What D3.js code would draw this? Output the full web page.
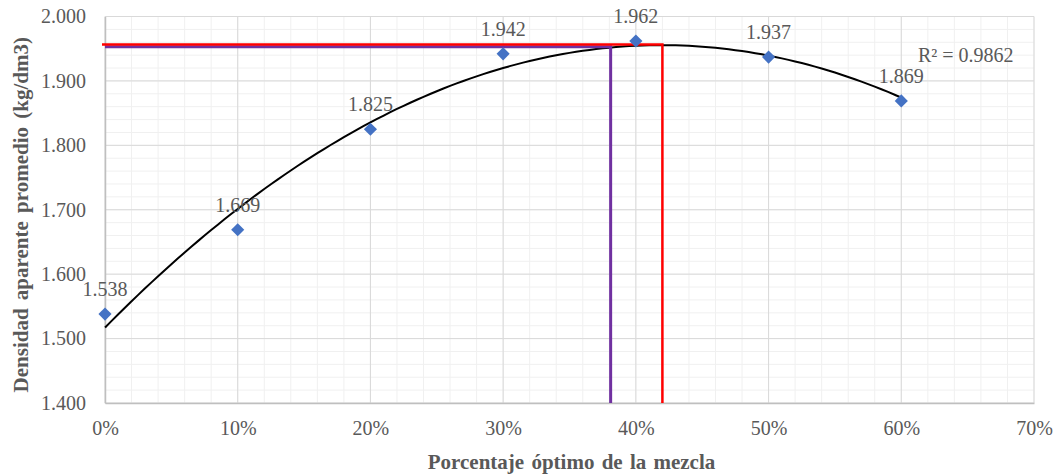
<!DOCTYPE html>
<html>
<head>
<meta charset="utf-8">
<script src="https://cdn.jsdelivr.net/npm/d3@7"></script>
<style>
  body { margin: 0; background: #fff; }
  svg { display: block; font-family: "Liberation Serif", "Times New Roman", serif; }
</style>
</head>
<body>
<svg id="chart" width="1061" height="474"></svg>
<script>
// percentages (as fractions) and average bulk density
var mixPct = [0, 0.1, 0.2, 0.3, 0.4, 0.5, 0.6];
var density = [1.538, 1.669, 1.825, 1.942, 1.962, 1.937, 1.869];
var xTicks = [0, 0.1, 0.2, 0.3, 0.4, 0.5, 0.6, 0.7];
var yTicks = [1.4, 1.5, 1.6, 1.7, 1.8, 1.9, 2.0];
var redOptimum = [0.42, 1.9565];
var purpleOptimum = [0.381, 1.953];
var r2Text = 'R\u00B2 = 0.9862';

var svg = d3.select('#chart');
var plotLeft = 105, plotRight = 1034, plotTop = 16.5, plotBottom = 403;

var xScale = d3.scaleLinear().domain([0, 0.7]).range([plotLeft, plotRight]);
var yScale = d3.scaleLinear().domain([1.4, 2.0]).range([plotBottom, plotTop]);

// gridlines: minor every 2% / 0.02, major every 10% / 0.1
var grid = svg.append('g');
grid.selectAll('line.vminor')
    .data(d3.range(0, 36).map(function (i) { return i * 0.02; }))
    .enter().append('line')
    .attr('x1', function (d) { return xScale(d); })
    .attr('x2', function (d) { return xScale(d); })
    .attr('y1', plotTop).attr('y2', plotBottom)
    .attr('stroke', '#f0f0f0').attr('stroke-width', 1);
grid.selectAll('line.hminor')
    .data(d3.range(0, 31).map(function (i) { return 1.4 + i * 0.02; }))
    .enter().append('line')
    .attr('x1', plotLeft).attr('x2', plotRight)
    .attr('y1', function (d) { return yScale(d); })
    .attr('y2', function (d) { return yScale(d); })
    .attr('stroke', '#f0f0f0').attr('stroke-width', 1);
grid.selectAll('line.vmajor')
    .data(xTicks)
    .enter().append('line')
    .attr('x1', function (d) { return xScale(d); })
    .attr('x2', function (d) { return xScale(d); })
    .attr('y1', plotTop).attr('y2', plotBottom)
    .attr('stroke', '#d9d9d9').attr('stroke-width', 1);
grid.selectAll('line.hmajor')
    .data(yTicks)
    .enter().append('line')
    .attr('x1', plotLeft).attr('x2', plotRight)
    .attr('y1', function (d) { return yScale(d); })
    .attr('y2', function (d) { return yScale(d); })
    .attr('stroke', '#d9d9d9').attr('stroke-width', 1);

// axes
var xAxis = d3.axisBottom(xScale).tickValues(xTicks).tickSize(0).tickPadding(18)
    .tickFormat(d3.format('.0%'));
var yAxis = d3.axisLeft(yScale).tickValues(yTicks).tickSize(0).tickPadding(19)
    .tickFormat(d3.format('.3f'));

var gx = svg.append('g').attr('transform', 'translate(0,' + plotBottom + ')').call(xAxis);
var gy = svg.append('g').attr('transform', 'translate(' + plotLeft + ',0)').call(yAxis);
[gx, gy].forEach(function (g) {
    g.select('.domain').attr('stroke', '#bfbfbf').attr('stroke-width', 1.5);
    g.selectAll('text')
        .attr('fill', '#595959')
        .style('font-size', '20px')
        .style('font-family', '"Liberation Serif", serif');
});

// quadratic trendline (least squares on the data)
function fitQuadratic(xs, ys) {
    var s = [0, 0, 0, 0, 0], t = [0, 0, 0];
    xs.forEach(function (x, i) {
        for (var k = 0; k < 5; k++) s[k] += Math.pow(x, k);
        for (var j = 0; j < 3; j++) t[j] += Math.pow(x, j) * ys[i];
    });
    var m = [[s[0], s[1], s[2], t[0]], [s[1], s[2], s[3], t[1]], [s[2], s[3], s[4], t[2]]];
    for (var c = 0; c < 3; c++) {
        for (var r = c + 1; r < 3; r++) {
            var f = m[r][c] / m[c][c];
            for (var q = c; q < 4; q++) m[r][q] -= f * m[c][q];
        }
    }
    var coef = [0, 0, 0];
    for (var i = 2; i >= 0; i--) {
        var v = m[i][3];
        for (var j2 = i + 1; j2 < 3; j2++) v -= m[i][j2] * coef[j2];
        coef[i] = v / m[i][i];
    }
    return coef;
}
var coef = fitQuadratic(mixPct, density);
var trendX = d3.range(0, 0.6001, 0.005);
var trendLine = d3.line()
    .x(function (d) { return xScale(d); })
    .y(function (d) { return yScale(coef[0] + coef[1] * d + coef[2] * d * d); })
    .curve(d3.curveMonotoneX);
svg.append('path')
    .datum(trendX)
    .attr('d', trendLine)
    .attr('fill', 'none')
    .attr('stroke', '#000')
    .attr('stroke-width', 2);

// optimum lines
function optimumPath(p, x0) {
    return 'M' + x0 + ',' + yScale(p[1]) + 'H' + xScale(p[0]) + 'V' + plotBottom;
}
svg.append('path')
    .attr('d', optimumPath(purpleOptimum, plotLeft))
    .attr('fill', 'none').attr('stroke', '#7030A0').attr('stroke-width', 3);
svg.append('path')
    .attr('d', optimumPath(redOptimum, plotLeft - 3))
    .attr('fill', 'none').attr('stroke', '#FF0000').attr('stroke-width', 2.5);

// markers
svg.selectAll('path.pt')
    .data(mixPct)
    .enter().append('path')
    .attr('class', 'pt')
    .attr('d', d3.symbol().type(d3.symbolDiamond2).size(110))
    .attr('transform', function (d, i) {
        return 'translate(' + xScale(d) + ',' + yScale(density[i]) + ')';
    })
    .attr('fill', '#4472C4');

// data labels
svg.selectAll('text.lbl')
    .data(mixPct)
    .enter().append('text')
    .attr('class', 'lbl')
    .attr('x', function (d) { return xScale(d); })
    .attr('y', function (d, i) { return yScale(density[i]) - 18; })
    .attr('text-anchor', 'middle')
    .attr('fill', '#595959')
    .style('font-size', '20px')
    .text(function (d, i) { return d3.format('.3f')(density[i]); });

// R² label
svg.append('text')
    .attr('x', 918).attr('y', 62)
    .attr('fill', '#595959')
    .style('font-size', '20px')
    .text(r2Text);

// axis titles
svg.append('text')
    .attr('x', (plotLeft + plotRight) / 2 + 2).attr('y', 469)
    .attr('text-anchor', 'middle')
    .attr('fill', '#595959')
    .style('font-size', '21px').style('font-weight', 'bold')
    .style('word-spacing', '2px')
    .text('Porcentaje óptimo de la mezcla');
svg.append('text')
    .attr('transform', 'translate(28,' + ((plotTop + plotBottom) / 2 + 5) + ') rotate(-90)')
    .attr('text-anchor', 'middle')
    .attr('fill', '#595959')
    .style('font-size', '21px').style('font-weight', 'bold')
    .style('word-spacing', '3px')
    .text('Densidad aparente promedio (kg/dm3)');
</script>
</body>
</html>
